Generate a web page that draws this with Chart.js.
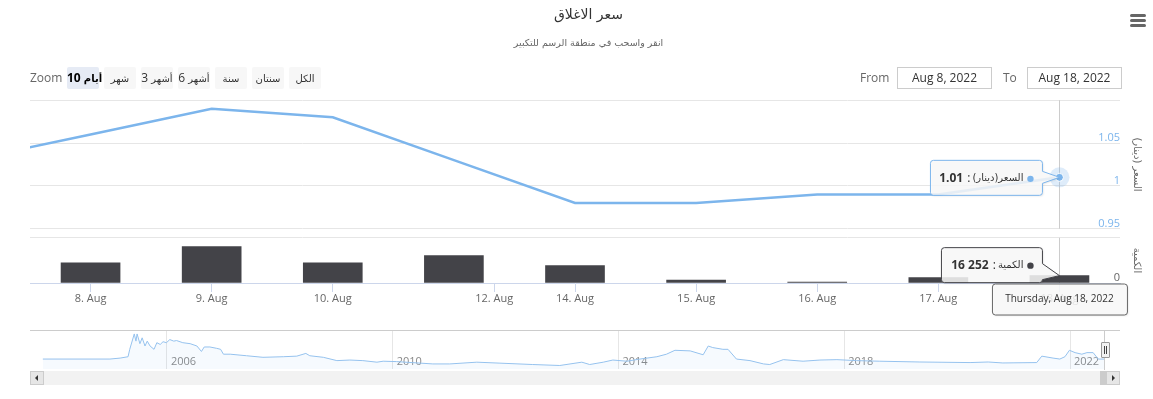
<!DOCTYPE html>
<html><head><meta charset="utf-8">
<script src="https://cdn.jsdelivr.net/npm/chart.js@4.4.0/dist/chart.umd.min.js"></script>
<style>
html,body{margin:0;padding:0;background:#fff;}
body{width:1153px;height:399px;position:relative;overflow:hidden;font-family:'Open Sans','DejaVu Sans',sans-serif;}
canvas{position:absolute;left:0;}
#main{top:0;}
#nav{top:325px;}
.btn{position:absolute;top:67px;height:22px;width:32px;background:#f7f7f7;color:#333;font-size:12px;line-height:22px;text-align:center;border-radius:2px;white-space:nowrap;}
.btn.sel{background:#e6ebf5;font-weight:bold;color:#000;}
.ar{font-family:'DejaVu Sans',sans-serif;font-size:10px;}
.lbl{position:absolute;top:67px;line-height:22px;font-size:12px;color:#666;}
.inp{position:absolute;top:67px;height:20px;width:93px;border:1px solid #cccccc;font-size:12px;line-height:20px;text-align:center;color:#333;}
.ham{position:absolute;left:1130px;width:16px;height:3px;border-radius:1.5px;background:#666;}
.abs{position:absolute;box-sizing:border-box;}
</style></head>
<body>
<canvas id="main" width="1153" height="399"></canvas>
<canvas id="nav" width="1153" height="50"></canvas>
<div id="ui"></div>
<script>
// ---------- DATA ----------
const chartTitle = 'سعر الاغلاق';
const chartSubtitle = 'انقر واسحب في منطقة الرسم للتكبير';
const priceName = 'السعر(دينار)';
const volumeName = 'الكمية';
const priceAxisTitle = 'السعر (دينار)';
const volumeAxisTitle = 'الكمية';
const tradeDates = ['2022-08-07','2022-08-08','2022-08-09','2022-08-10','2022-08-11','2022-08-14','2022-08-15','2022-08-16','2022-08-17','2022-08-18'];
const closePrice = [1.03, 1.06, 1.09, 1.08, 1.03, 0.98, 0.98, 0.99, 0.99, 1.01];
const volume = [null, 44400, 80700, 44400, 60700, 38500, 6700, 2200, 11800, 16252];
const xTickPositions = [0, 1, 2, 10/3, 4, 5, 6, 7, 8];
const xTickLabels = ['8. Aug','9. Aug','10. Aug','12. Aug','14. Aug','15. Aug','16. Aug','17. Aug','18. Aug'];
const priceTicks = [0.95, 1, 1.05, 1.1];
const rangeButtons = ['10 أيام','شهر','3 أشهر','6 أشهر','سنة','سنتان','الكل'];
const fromDate = 'Aug 8, 2022';
const toDate = 'Aug 18, 2022';
const navYears = [2003.80,2004.99,2005.17,2005.31,2005.34,2005.42,2005.45,2005.47,2005.52,2005.56,2005.61,2005.65,2005.70,2005.77,2005.82,2005.88,2005.93,2005.99,2006.05,2006.12,2006.17,2006.28,2006.41,2006.53,2006.61,2006.66,2006.76,2006.88,2006.95,2007.00,2007.12,2007.41,2007.70,2008.06,2008.30,2008.46,2008.53,2008.77,2009.01,2009.24,2009.47,2009.72,2009.83,2010.07,2010.71,2011.01,2011.49,2011.90,2012.48,2012.96,2013.35,2013.49,2013.73,2013.90,2014.15,2014.38,2014.68,2014.85,2015.00,2015.27,2015.50,2015.59,2015.67,2015.85,2015.94,2016.09,2016.33,2016.57,2016.68,2016.92,2017.27,2017.57,2017.87,2018.22,2018.63,2019.34,2020.23,2020.55,2020.81,2021.41,2021.50,2021.70,2021.82,2021.91,2021.99,2022.09,2022.21,2022.30,2022.41,2022.50,2022.62];
const navPrice = [1.01,1.01,1.06,1.13,1.51,2.30,1.93,2.30,1.80,2.10,1.68,1.93,1.68,1.51,1.85,1.76,1.90,1.85,2.01,1.93,1.96,1.85,1.80,1.68,1.40,1.63,1.63,1.56,1.51,1.26,1.26,1.18,1.10,1.13,1.16,1.30,1.18,1.10,0.93,0.96,0.93,0.85,0.90,0.88,0.76,0.76,0.85,0.80,0.73,0.68,0.85,0.73,0.85,0.96,0.90,1.01,1.13,1.26,1.46,1.43,1.23,1.68,1.60,1.51,1.51,1.01,0.93,0.76,0.73,0.98,0.90,0.96,0.98,0.93,0.90,0.86,0.83,0.86,0.81,0.83,1.16,1.06,1.01,1.13,1.46,1.34,1.26,1.34,1.34,1.01,1.01];
const navTickYears = [2006, 2010, 2014, 2018, 2022];

// ---------- SETUP ----------
const FONT = "'Open Sans', 'DejaVu Sans', sans-serif";
Chart.defaults.font.family = FONT;
const PRICE_COLOR = '#7cb5ec';
const VOL_COLOR = '#434348';
const hoverIndex = closePrice.length - 1;
const ordinal = i => i - 1; // ordinal x position of trading day i (first entry lies left of view)

function fmtThousands(v){ return String(v).replace(/\B(?=(\d{3})+(?!\d))/g, ' '); }
function fmtDateLong(s){
  const d = new Date(s + 'T12:00:00');
  return d.toLocaleDateString('en-US', {weekday:'long', month:'short', day:'numeric', year:'numeric'});
}

function roundRectPath(ctx, x, y, w, h, r){
  ctx.moveTo(x + r, y);
  ctx.lineTo(x + w - r, y);
  ctx.arcTo(x + w, y, x + w, y + r, r);
  ctx.lineTo(x + w, y + h - r);
  ctx.arcTo(x + w, y + h, x + w - r, y + h, r);
  ctx.lineTo(x + r, y + h);
  ctx.arcTo(x, y + h, x, y + h - r, r);
  ctx.lineTo(x, y + r);
  ctx.arcTo(x, y, x + r, y, r);
}

const overlay = {
  id: 'overlay',
  beforeDatasetsDraw(chart){
    const {ctx} = chart;
    const yP = chart.scales.yPrice, yV = chart.scales.yVol;
    const pt = chart.getDatasetMeta(0).data[hoverIndex];
    const x = Math.round(pt.x) + 0.5;
    ctx.save();
    ctx.strokeStyle = '#cccccc'; ctx.lineWidth = 1;
    ctx.beginPath();
    ctx.moveTo(x, yP.top); ctx.lineTo(x, yP.bottom);
    ctx.moveTo(x, yV.top); ctx.lineTo(x, yV.bottom);
    ctx.stroke();
    ctx.restore();
  },
  afterDatasetsDraw(chart){
    const {ctx} = chart;
    const pt = chart.getDatasetMeta(0).data[hoverIndex];
    ctx.save();
    ctx.fillStyle = 'rgba(124,181,236,0.25)';
    ctx.beginPath(); ctx.arc(pt.x, pt.y, 10, 0, Math.PI*2); ctx.fill();
    ctx.fillStyle = PRICE_COLOR; ctx.strokeStyle = '#fff'; ctx.lineWidth = 1;
    ctx.beginPath(); ctx.arc(pt.x, pt.y, 4, 0, Math.PI*2); ctx.fill(); ctx.stroke();
    ctx.restore();
  },
  afterDraw(chart){
    const {ctx} = chart;
    const pt = chart.getDatasetMeta(0).data[hoverIndex];
    const barMeta = chart.getDatasetMeta(1);
    const bar = barMeta.data[barMeta.data.length - 1];
    const ax = pt.x, ay = pt.y;
    const xAxis = chart.scales.x;

    function callout(l, t, w, h, anchorX, anchorY, a1, a2, border){
      ctx.save();
      ctx.beginPath();
      const r = 3, R = l + w, B = t + h;
      ctx.moveTo(l + r, t);
      ctx.lineTo(R - r, t);
      ctx.arcTo(R, t, R, t + r, r);
      ctx.lineTo(R, a1);
      ctx.lineTo(anchorX, anchorY);
      ctx.lineTo(R, a2);
      ctx.lineTo(R, B - r);
      ctx.arcTo(R, B, R - r, B, r);
      ctx.lineTo(l + r, B);
      ctx.arcTo(l, B, l, B - r, r);
      ctx.lineTo(l, t + r);
      ctx.arcTo(l, t, l + r, t, r);
      ctx.closePath();
      ctx.shadowColor = 'rgba(0,0,0,0.12)'; ctx.shadowOffsetX = 1; ctx.shadowOffsetY = 1; ctx.shadowBlur = 2;
      ctx.fillStyle = 'rgba(250,250,250,0.85)';
      ctx.fill();
      ctx.shadowColor = 'transparent';
      ctx.strokeStyle = border; ctx.lineWidth = 1;
      ctx.stroke();
      ctx.restore();
    }
    function rowText(right, cy, color, name, valueText){
      ctx.save();
      ctx.textBaseline = 'middle';
      let x = right - 12;
      ctx.fillStyle = color;
      ctx.beginPath(); ctx.arc(x, cy + 0.5, 3.2, 0, Math.PI*2); ctx.fill();
      x -= 7;
      ctx.direction = 'rtl';
      ctx.textAlign = 'right';
      ctx.font = "10px 'DejaVu Sans', sans-serif";
      ctx.fillStyle = '#333';
      ctx.fillText(name, x, cy);
      x -= ctx.measureText(name).width + 2;
      ctx.direction = 'ltr';
      ctx.font = "12px " + FONT;
      ctx.fillText(':', x, cy);
      x -= ctx.measureText(': ').width + 1;
      ctx.font = "bold 12px " + FONT;
      ctx.fillText(valueText, x, cy);
      ctx.restore();
    }

    // price box
    const pR = ax - 17, pW = 112, pH = 35, pT = ay - 17;
    callout(pR - pW, pT, pW, pH, ax, ay, ay - 6, ay + 6, PRICE_COLOR);
    rowText(pR, pT + pH/2 + 0.5, PRICE_COLOR, priceName, closePrice[hoverIndex].toFixed(2));

    // volume box
    const vR = ax - 17, vW = 101, vH = 35, vT = bar.y - 28;
    callout(vR - vW, vT, vW, vH, ax, bar.y, bar.y - 12, Math.min(bar.y + 4, vT + vH - 3), VOL_COLOR);
    rowText(vR, vT + vH/2, VOL_COLOR, volumeName, fmtThousands(volume[hoverIndex]));

    // date box (below axis)
    const dW = 135, dH = 31, dT = xAxis.top + 1, dL = ax - dW/2 + 0.5;
    ctx.save();
    ctx.beginPath();
    roundRectPath(ctx, dL, dT, dW, dH, 3);
    ctx.shadowColor = 'rgba(0,0,0,0.12)'; ctx.shadowOffsetX = 1; ctx.shadowOffsetY = 1; ctx.shadowBlur = 2;
    ctx.fillStyle = 'rgba(250,250,250,0.85)';
    ctx.fill();
    ctx.shadowColor = 'transparent';
    ctx.strokeStyle = '#666666'; ctx.lineWidth = 1; ctx.stroke();
    ctx.fillStyle = '#333'; ctx.font = "10px " + FONT; ctx.textAlign = 'center'; ctx.textBaseline = 'middle';
    ctx.fillText(fmtDateLong(tradeDates[hoverIndex]), ax, dT + dH/2);
    ctx.restore();
  }
};

// ---------- MAIN CHART ----------
new Chart(document.getElementById('main'), {
  type: 'bar',
  data: {
    datasets: [
      {
        type: 'line', label: priceName,
        data: closePrice.map((v, i) => ({x: ordinal(i), y: v})),
        yAxisID: 'yPrice', xAxisID: 'x',
        borderColor: PRICE_COLOR, borderWidth: 2.5, pointRadius: 0, tension: 0, fill: false, order: 1
      },
      {
        type: 'bar', label: volumeName,
        data: volume.map((v, i) => ({x: ordinal(i), y: v})).filter(d => d.y !== null),
        yAxisID: 'yVol', xAxisID: 'x',
        backgroundColor: VOL_COLOR, barThickness: 59, order: 2
      }
    ]
  },
  options: {
    responsive: false, animation: false, events: [],
    layout: {padding: {left: 30, right: 6, top: 0, bottom: 93.8}},
    plugins: {
      legend: {display: false}, tooltip: {enabled: false},
      title: {display: true, text: chartTitle, color: '#333333', font: {size: 14, weight: 'normal', family: "'DejaVu Sans', sans-serif"}, padding: {top: 7, bottom: 0}},
      subtitle: {display: true, text: chartSubtitle, color: '#666666', font: {size: 9.5, family: "'DejaVu Sans', sans-serif"}, padding: {top: 14, bottom: 51}}
    },
    scales: {
      x: {
        type: 'linear', position: 'bottom', min: -0.5, max: 8.5, offset: false,
        afterBuildTicks: s => { s.ticks = xTickPositions.map(v => ({value: v})); },
        grid: {display: true, offset: false, drawOnChartArea: false, drawTicks: true, tickLength: 9, color: '#ccd6eb'},
        border: {display: true, color: '#ccd6eb'},
        ticks: {autoSkip: false, maxRotation: 0, minRotation: 0, padding: 0, color: '#666666', font: {size: 11},
          callback: (v, i) => xTickLabels[i]}
      },
      yPrice: {
        type: 'linear', position: 'right', stack: 'panes', stackWeight: 128,
        min: priceTicks[0], max: priceTicks[priceTicks.length - 1],
        afterBuildTicks: s => { s.ticks = priceTicks.map(v => ({value: v})); },
        grid: {color: '#e6e6e6', drawTicks: false},
        border: {display: false},
        ticks: {mirror: true, padding: 0, labelOffset: -5, color: PRICE_COLOR, font: {size: 11},
          callback: (v, i) => i === priceTicks.length - 1 ? '' : String(+v.toFixed(2))},
        title: {display: true, text: priceAxisTitle, color: '#666666', font: {size: 10, family: "'DejaVu Sans', sans-serif"}, padding: {top: 4, bottom: 11}}
      },
      yGap: {
        type: 'linear', position: 'right', stack: 'panes', stackWeight: 9,
        grid: {display: false}, ticks: {display: false}, border: {display: false}
      },
      yVol: {
        type: 'linear', position: 'right', stack: 'panes', stackWeight: 45,
        min: 0, max: 100000,
        afterBuildTicks: s => { s.ticks = [{value: 0}, {value: 100000}]; },
        grid: {color: c => (c.tick && c.tick.value === 0) ? 'rgba(0,0,0,0)' : '#e6e6e6', drawTicks: false},
        border: {display: false},
        ticks: {mirror: true, padding: 0, labelOffset: -5, color: '#666666', font: {size: 11},
          callback: v => v === 0 ? '0' : ''},
        title: {display: true, text: volumeAxisTitle, color: '#666666', font: {size: 10, family: "'DejaVu Sans', sans-serif"}, padding: {top: 4, bottom: 11}}
      }
    }
  },
  plugins: [overlay]
});

// ---------- NAVIGATOR ----------
new Chart(document.getElementById('nav'), {
  type: 'line',
  data: {
    datasets: [{
      data: navYears.map((x, i) => ({x, y: navPrice[i]})),
      borderColor: '#95c2ee', borderWidth: 1, pointRadius: 0, tension: 0,
      fill: 'start', backgroundColor: 'rgba(124,181,236,0.07)'
    }]
  },
  options: {
    responsive: false, animation: false, events: [],
    layout: {padding: {left: 30, right: 33, top: 6, bottom: 4}},
    plugins: {legend: {display: false}, tooltip: {enabled: false}},
    scales: {
      x: {
        type: 'linear', min: 2003.5726, max: 2022.8859,
        afterBuildTicks: s => { s.ticks = navTickYears.map(v => ({value: v})); },
        grid: {color: '#e6e6e6', drawTicks: false},
        border: {display: false},
        ticks: {mirror: true, align: 'start', labelOffset: 4, padding: 1, autoSkip: false, maxRotation: 0,
          color: '#888888', font: {size: 11}, callback: v => String(v)}
      },
      y: {display: false, min: 0.5, max: 2.45}
    }
  }
});

// ---------- HTML UI (range selector, inputs, scrollbar) ----------
const ui = document.getElementById('ui');
function add(html){ ui.insertAdjacentHTML('beforeend', html); }
function arWrap(t){ return t.replace(/([\u0600-\u06FF]+)/g, '<span class="ar">$1</span>'); }
add('<div class="lbl" style="left:30px">Zoom</div>');
rangeButtons.forEach((t, i) => {
  add('<div class="btn' + (i === 0 ? ' sel' : '') + '" style="left:' + (67 + i*37) + 'px">' + arWrap(t) + '</div>');
});
add('<div class="lbl" style="left:860px">From</div>');
add('<div class="inp" style="left:897px">' + fromDate + '</div>');
add('<div class="lbl" style="left:1003px">To</div>');
add('<div class="inp" style="left:1027px">' + toDate + '</div>');
add('<div class="ham" style="top:14px"></div><div class="ham" style="top:19px"></div><div class="ham" style="top:24px"></div>');
// navigator outline + handle
add('<div class="abs" style="left:30px;top:330px;width:1090px;height:1px;background:#cccccc"></div>');
add('<div class="abs" style="left:1104px;top:330px;width:1px;height:40px;background:#cccccc"></div>');
add('<div class="abs" style="left:1101px;top:342px;width:9px;height:16px;background:#f2f2f2;border:1px solid #999999;border-radius:1px"></div>');
add('<div class="abs" style="left:1104px;top:346px;width:1px;height:8px;background:#444"></div>');
add('<div class="abs" style="left:1106px;top:346px;width:1px;height:8px;background:#444"></div>');
// scrollbar
add('<div class="abs" style="left:30px;top:371px;width:1090px;height:14px;background:#f2f2f2"></div>');
add('<div class="abs" style="left:1100px;top:371px;width:8px;height:14px;background:#cccccc"></div>');
add('<div class="abs" style="left:30px;top:371px;width:14px;height:14px;background:#e6e6e6;border:1px solid #cccccc"></div>');
add('<div class="abs" style="left:35px;top:375px;width:0;height:0;border-top:3px solid transparent;border-bottom:3px solid transparent;border-right:3px solid #333"></div>');
add('<div class="abs" style="left:1106px;top:371px;width:14px;height:14px;background:#e6e6e6;border:1px solid #cccccc"></div>');
add('<div class="abs" style="left:1112px;top:375px;width:0;height:0;border-top:3px solid transparent;border-bottom:3px solid transparent;border-left:3px solid #333"></div>');
</script>
</body></html>
